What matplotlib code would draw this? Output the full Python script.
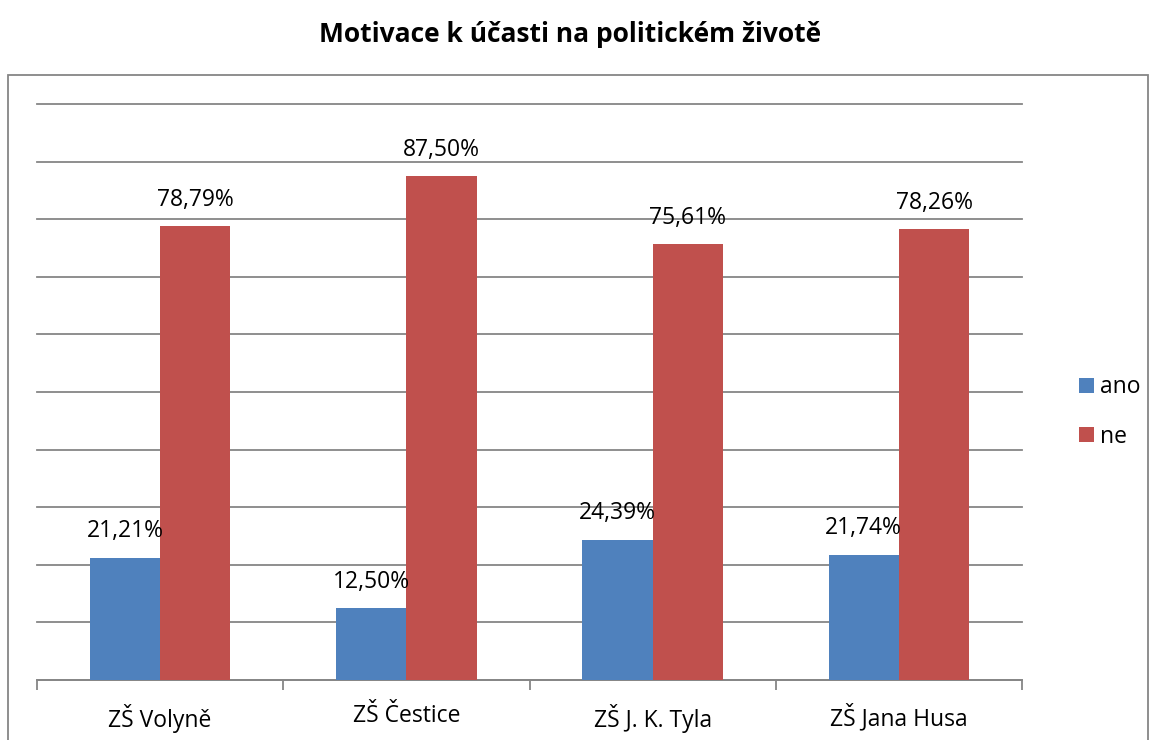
import matplotlib
matplotlib.use("Agg")
import matplotlib.pyplot as plt
from matplotlib.patches import Rectangle
import numpy as np

categories = ["ZŠ Volyně", "ZŠ Čestice", "ZŠ J. K. Tyla", "ZŠ Jana Husa"]
ano = [21.21, 12.50, 24.39, 21.74]
ne = [78.79, 87.50, 75.61, 78.26]
series_names = ["ano", "ne"]
title = "Motivace k účasti na politickém životě"

plt.rcParams['font.family'] = ['Open Sans', 'DejaVu Sans']

W, H = 1150, 740
fig = plt.figure(figsize=(11.5, 7.4), dpi=100)
ax = fig.add_axes([37 / W, 60 / H, (1022 - 37) / W, (680 - 104) / H])

x = np.arange(len(categories))
bw = 1 / 3.5
c_ano = "#4F81BD"
c_ne = "#C0504D"
b1 = ax.bar(x - bw / 2, ano, bw, color=c_ano, label=series_names[0], zorder=3)
b2 = ax.bar(x + bw / 2, ne, bw, color=c_ne, label=series_names[1], zorder=3)

for bars, vals in ((b1, ano), (b2, ne)):
    for rect, v in zip(bars, vals):
        ax.annotate(f"{v:.2f}%".replace(".", ","),
                    (rect.get_x() + rect.get_width() / 2, v),
                    xytext=(0, 19), textcoords="offset points",
                    ha="center", va="center", fontsize=16.5, color="black", zorder=5)

ax.set_xlim(-0.5, len(categories) - 0.5)
ax.set_ylim(0, 100)
ax.set_yticks(np.arange(0, 101, 10))
ax.yaxis.grid(True, color="#868686", linewidth=1.3, zorder=0)
for gl in ax.get_ygridlines():
    gl.set_clip_on(False)
ax.tick_params(axis="y", left=False, labelleft=False)
ax.set_xticks(x)
ax.set_xticklabels(categories, fontsize=16.5)
ax.tick_params(axis="x", length=0, pad=17)
ax.set_xticks(np.arange(-0.5, len(categories), 1), minor=True)
ax.tick_params(axis="x", which="minor", length=7, width=1.3, color="#868686")
for s in ("top", "right", "left"):
    ax.spines[s].set_visible(False)
ax.spines["bottom"].set_color("#868686")
ax.spines["bottom"].set_linewidth(1.3)

fig.text(570 / W, 1 - 35 / H, title, ha="center", va="center",
         fontsize=19, fontweight="bold")

leg = fig.legend(handles=[b1, b2], labels=series_names, loc="center left",
                 bbox_to_anchor=(1058 / W, 1 - 412 / H), frameon=False,
                 fontsize=16.5, handlelength=0.65, handleheight=0.65,
                 handletextpad=0.3, labelspacing=1.1)

fig.patches.append(Rectangle((8 / W, -0.05), (1148 - 8) / W, 1 - 75 / H + 0.05,
                             transform=fig.transFigure, fill=False,
                             edgecolor="#868686", linewidth=1.3))

fig.savefig("out.png", dpi=100)
